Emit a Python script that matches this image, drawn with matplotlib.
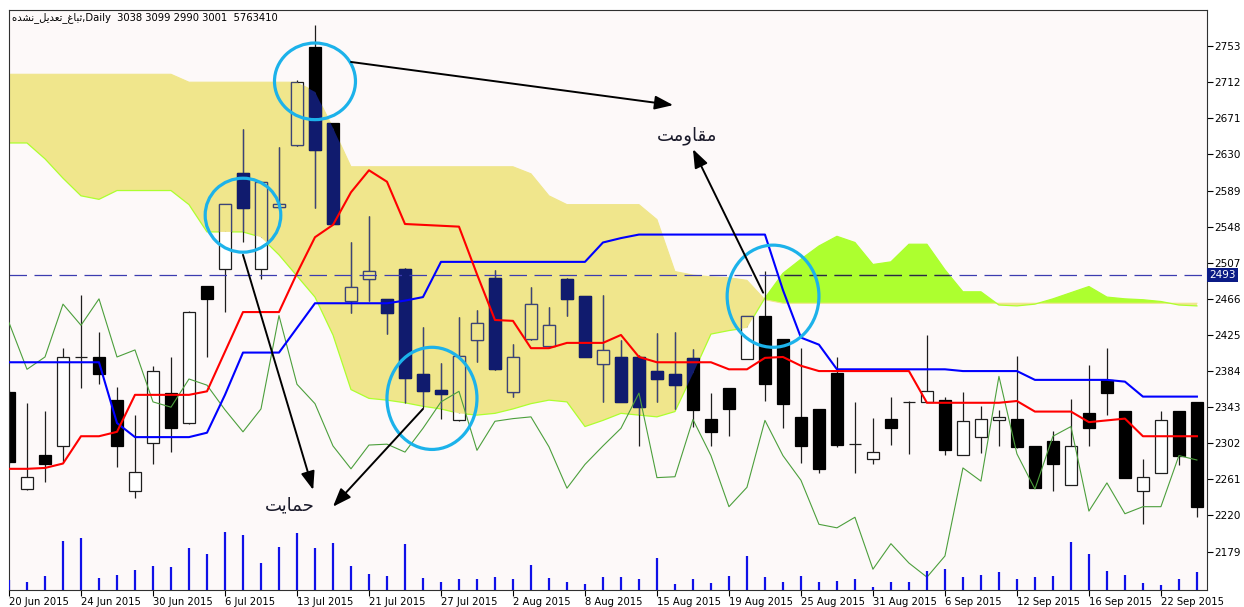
import numpy as np
import matplotlib
matplotlib.use("Agg")
import matplotlib.pyplot as plt
from matplotlib.patches import Ellipse
from matplotlib.path import Path

# ---- values ----
date_labels = ["20 Jun 2015", "24 Jun 2015", "30 Jun 2015", "6 Jul 2015", "13 Jul 2015",
               "21 Jul 2015", "27 Jul 2015", "2 Aug 2015", "8 Aug 2015", "15 Aug 2015",
               "19 Aug 2015", "25 Aug 2015", "31 Aug 2015", "6 Sep 2015", "12 Sep 2015",
               "16 Sep 2015", "22 Sep 2015"]

opens = [2360, 2250, 2289, 2299, 2400, 2400, 2351, 2248, 2302, 2359,
         2325, 2481, 2500, 2609, 2500, 2570, 2641, 2752, 2666, 2463,
         2489, 2466, 2500, 2381, 2363, 2329, 2419, 2490, 2360, 2420,
         2413, 2489, 2469, 2392, 2400, 2400, 2384, 2381, 2399, 2330,
         2365, 2398, 2447, 2420, 2332, 2341, 2382, 2301, 2284, 2330,
         2349, 2349, 2351, 2289, 2309, 2328, 2330, 2299, 2305, 2255,
         2336, 2374, 2339, 2248, 2268, 2339, 2349]
highs = [2363, 2348, 2339, 2410, 2470, 2428, 2366, 2334, 2390, 2400,
         2452, 2481, 2574, 2659, 2599, 2639, 2715, 2777, 2666, 2531,
         2560, 2466, 2501, 2434, 2393, 2445, 2453, 2499, 2415, 2480,
         2457, 2490, 2469, 2470, 2419, 2402, 2427, 2428, 2409, 2359,
         2365, 2447, 2498, 2420, 2410, 2341, 2400, 2349, 2331, 2355,
         2350, 2425, 2355, 2360, 2344, 2340, 2401, 2299, 2316, 2352,
         2391, 2410, 2339, 2284, 2339, 2339, 2349]
lows = [2279, 2249, 2258, 2281, 2365, 2369, 2275, 2240, 2279, 2292,
        2324, 2400, 2451, 2530, 2489, 2569, 2640, 2569, 2551, 2450,
        2464, 2426, 2348, 2342, 2330, 2327, 2394, 2385, 2355, 2419,
        2410, 2447, 2400, 2349, 2349, 2299, 2349, 2341, 2321, 2299,
        2310, 2398, 2350, 2319, 2280, 2268, 2298, 2268, 2279, 2300,
        2290, 2349, 2289, 2289, 2291, 2299, 2297, 2251, 2248, 2255,
        2299, 2334, 2263, 2210, 2268, 2277, 2218]
closes = [2281, 2264, 2278, 2400, 2400, 2381, 2299, 2269, 2384, 2319,
          2451, 2466, 2574, 2569, 2599, 2574, 2712, 2635, 2551, 2480,
          2498, 2450, 2376, 2361, 2358, 2401, 2439, 2386, 2400, 2460,
          2436, 2466, 2400, 2408, 2349, 2343, 2375, 2368, 2340, 2315,
          2341, 2447, 2369, 2347, 2299, 2273, 2300, 2301, 2292, 2319,
          2349, 2361, 2294, 2327, 2330, 2332, 2298, 2251, 2278, 2299,
          2319, 2359, 2263, 2264, 2329, 2288, 2230]
# closes of the bars after the visible window (they feed the lagging span)
later_closes = [2252, 2328, 2288, 2260, 2210, 2206, 2218, 2159, 2188, 2166,
                2150, 2174, 2274, 2259, 2378, 2290, 2250, 2310, 2321, 2225,
                2257, 2222, 2230, 2230, 2288, 2283]
volume = [10, 8, 14, 49, 52, 12, 15, 20, 24, 23,
          42, 36, 58, 55, 27, 43, 57, 42, 47, 24,
          16, 14, 46, 12, 8, 11, 11, 13, 11, 25,
          12, 8, 6, 13, 13, 11, 32, 6, 11, 7,
          14, 34, 13, 8, 14, 8, 9, 11, 3, 8,
          8, 19, 21, 13, 15, 18, 11, 13, 14, 48,
          36, 19, 15, 7, 5, 11, 18]
tenkan = [2273, 2273, 2274, 2279, 2310, 2310, 2315, 2357, 2357, 2357,
          2357, 2361, 2406, 2451, 2451, 2451, 2495, 2536, 2550, 2587,
          2612, 2599, 2551, 2550, 2549, 2548, 2494, 2442, 2441, 2410,
          2410, 2416, 2416, 2416, 2425, 2400, 2394, 2394, 2394, 2394,
          2386, 2386, 2399, 2400, 2390, 2384, 2384, 2384, 2384, 2384,
          2384, 2348, 2348, 2348, 2348, 2348, 2350, 2338, 2338, 2338,
          2326, 2328, 2330, 2310, 2310, 2310, 2310]
kijun = [2394, 2394, 2394, 2394, 2394, 2394, 2325, 2309, 2309, 2309,
         2309, 2314, 2357, 2405, 2405, 2405, 2433, 2461, 2461, 2461,
         2461, 2461, 2464, 2468, 2508, 2508, 2508, 2508, 2508, 2508,
         2508, 2508, 2508, 2530, 2535, 2539, 2539, 2539, 2539, 2539,
         2539, 2539, 2539, 2476, 2422, 2414, 2386, 2386, 2386, 2386,
         2386, 2386, 2386, 2384, 2384, 2384, 2384, 2374, 2374, 2374,
         2374, 2374, 2372, 2355, 2355, 2355, 2355]
span_a = [2643, 2643, 2625, 2603, 2583, 2579, 2589, 2589, 2589, 2589,
          2573, 2542, 2542, 2542, 2536, 2516, 2492, 2468, 2425, 2363,
          2353, 2351, 2348, 2344, 2341, 2336, 2334, 2336, 2341, 2347,
          2351, 2349, 2321, 2328, 2336, 2334, 2332, 2338, 2381, 2426,
          2430, 2433, 2467, 2495, 2511, 2526, 2537, 2530, 2505, 2508,
          2528, 2528, 2499, 2474, 2474, 2459, 2458, 2460, 2466, 2473,
          2480, 2468, 2466, 2465, 2463, 2459, 2458]
span_b = [2721, 2721, 2721, 2721, 2721, 2721, 2721, 2721, 2721, 2721,
          2712, 2712, 2712, 2712, 2712, 2712, 2712, 2701, 2660, 2616,
          2616, 2616, 2616, 2616, 2616, 2616, 2616, 2616, 2616, 2608,
          2583, 2573, 2573, 2573, 2573, 2573, 2556, 2497, 2493, 2491,
          2490, 2487, 2465, 2461, 2461, 2461, 2461, 2461, 2461, 2461,
          2461, 2461, 2461, 2461, 2461, 2461, 2461, 2461, 2461, 2461,
          2461, 2461, 2461, 2461, 2461, 2461, 2461]
last_price = 2493
price_ticks = [2179, 2220, 2261, 2302, 2343, 2384, 2425, 2466, 2507,
               2548, 2589, 2630, 2671, 2712, 2753]
symbol = "ثباغ_تعدیل_نشده"
header_values = "Daily  3038 3099 2990 3001  5763410"
label_resist = "مقاومت"
label_support = "حمایت"

# matplotlib has no Arabic shaping, so map letters to presentation forms
# (isolated, final, initial, medial) and lay them out right to left
FA_FORMS = {
    "ا": ("\uFE8D", "\uFE8E", None, None),
    "ب": ("\uFE8F", "\uFE90", "\uFE91", "\uFE92"),
    "ت": ("\uFE95", "\uFE96", "\uFE97", "\uFE98"),
    "ث": ("\uFE99", "\uFE9A", "\uFE9B", "\uFE9C"),
    "ح": ("\uFEA1", "\uFEA2", "\uFEA3", "\uFEA4"),
    "د": ("\uFEA9", "\uFEAA", None, None),
    "ش": ("\uFEB5", "\uFEB6", "\uFEB7", "\uFEB8"),
    "ع": ("\uFEC9", "\uFECA", "\uFECB", "\uFECC"),
    "غ": ("\uFECD", "\uFECE", "\uFECF", "\uFED0"),
    "ق": ("\uFED5", "\uFED6", "\uFED7", "\uFED8"),
    "ل": ("\uFEDD", "\uFEDE", "\uFEDF", "\uFEE0"),
    "م": ("\uFEE1", "\uFEE2", "\uFEE3", "\uFEE4"),
    "ن": ("\uFEE5", "\uFEE6", "\uFEE7", "\uFEE8"),
    "ه": ("\uFEE9", "\uFEEA", "\uFEEB", "\uFEEC"),
    "و": ("\uFEED", "\uFEEE", None, None),
    "ی": ("\uFEEF", "\uFEF0", "\uFEF3", "\uFEF4"),
}


def shape_fa(text):
    out = []
    for k, ch in enumerate(text):
        if ch not in FA_FORMS:
            out.append(ch)
            continue
        forms = FA_FORMS[ch]
        prev = text[k - 1] if k > 0 else ""
        nxt = text[k + 1] if k + 1 < len(text) else ""
        join_prev = prev in FA_FORMS and FA_FORMS[prev][2] is not None
        join_next = forms[2] is not None and nxt in FA_FORMS
        if join_prev and join_next:
            out.append(forms[3])
        elif join_prev:
            out.append(forms[1])
        elif join_next:
            out.append(forms[2])
        else:
            out.append(forms[0])
    return "".join(reversed(out))


def draw_candles(ax, x, o, h, l, c, up_face, up_edge, down_color, wick, z):
    o, h, l, c = map(np.asarray, (o, h, l, c))
    up = c >= o
    wicks = ax.vlines(x, l, h, color=wick, lw=0.9, zorder=z)
    faces = [up_face if u else down_color for u in up]
    edges = [up_edge if u else down_color for u in up]
    bars = ax.bar(x, np.abs(c - o), width=0.62, bottom=np.minimum(o, c),
                  color=faces, edgecolor=edges, lw=0.9, zorder=z + 0.01)
    return [wicks] + list(bars.patches)


n = len(closes)
xs = np.arange(n)
all_closes = closes + later_closes
chikou = all_closes[26:26 + n]
a = np.array(span_a)
b = np.array(span_b)

fig = plt.figure(figsize=(12.44, 6.07), dpi=100)
fig.patch.set_facecolor("white")
ax = fig.add_axes([9 / 1244, 17 / 607, 1198 / 1244, 580 / 607])
ax.set_facecolor("#fdf9f9")
ax.set_xlim(0, 66.56)
ax.set_ylim(2135.4, 2794)

# cloud
khaki = ax.fill_between(xs, a, b, where=b >= a, interpolate=True,
                        color="#f0e68c", lw=0, zorder=1)
green = ax.fill_between(xs, a, b, where=a >= b, interpolate=True,
                        color="#adff2f", lw=0, zorder=1)
ax.plot(xs, b, color="#f0e68c", lw=0.8, zorder=1.1)
ax.plot(xs, a, color="#adff2f", lw=0.9, zorder=1.2)
khaki_path = Path.make_compound_path(*khaki.get_paths())
green_path = Path.make_compound_path(*green.get_paths())

# candles, and their darker look inside the khaki cloud
draw_candles(ax, xs, opens, highs, lows, closes, "white", "#1e1e1e", "black", "#1e1e1e", 2)
inside = draw_candles(ax, xs, opens, highs, lows, closes, "#f0e68c", "#3b4479",
                      "#101b6e", "#3b4479", 2.2)
for art in inside:
    art.set_clip_path(khaki_path, ax.transData)

# last price line (drawn darker where it crosses the green cloud)
ax.axhline(last_price, color="#3c3cb0", lw=0.9, dashes=(14, 6), zorder=2.5)
dark = ax.axhline(last_price, color="#2a2a40", lw=0.9, dashes=(14, 6), zorder=2.6)
dark.set_clip_path(green_path, ax.transData)

# lines
ax.plot(xs, chikou, color="#4c9f3c", lw=0.8, zorder=3)
ax.plot(xs, kijun, color="#0000ff", lw=1.5, zorder=3.2)
ax.plot(xs, tenkan, color="#ff0000", lw=1.5, zorder=3.3)

# volume along the bottom
vol_scale = 10 * max(volume)
ax.vlines(xs, 0, np.array(volume) / vol_scale, color="#1010e8", lw=1.6,
          transform=ax.get_xaxis_transform(), zorder=3)

# annotations
for (cx, cy, w, hgt) in [(17.0, 2713, 4.5, 87), (13.0, 2561, 4.2, 84),
                         (23.5, 2353, 5.0, 116), (42.45, 2469, 5.1, 116)]:
    ax.add_patch(Ellipse((cx, cy), w, hgt, fill=False, ec="#1cb2ea", lw=2.3, zorder=5))

arrow_kw = dict(arrowstyle="-|>,head_length=0.8,head_width=0.3", color="black",
                lw=1.4, shrinkA=0, shrinkB=0, mutation_scale=14)
for start, end in [((19.0, 2735), (36.9, 2686)), ((41.9, 2473), (38.0, 2636)),
                   ((13.0, 2516), (16.9, 2249)), ((23.0, 2341), (18.0, 2230))]:
    ax.annotate("", xy=end, xytext=start, arrowprops=arrow_kw, zorder=5)

ax.text(37.67, 2651, shape_fa(label_resist), fontsize=13, ha="center", va="center",
        color="#1a1a2a", zorder=6)
ax.text(15.6, 2232, shape_fa(label_support), fontsize=13, ha="center", va="center",
        color="#1a1a2a", zorder=6)

# axes styling
for sp in ax.spines.values():
    sp.set_color("#303030")
    sp.set_linewidth(0.8)
ax.yaxis.tick_right()
ax.set_yticks(price_ticks)
ax.set_yticklabels([str(t) for t in price_ticks])
ax.tick_params(axis="y", direction="out", length=4, width=0.8, pad=1.5,
               labelsize=7.5, colors="black")
ax.set_xticks(np.arange(len(date_labels)) * 4)
ax.set_xticklabels(date_labels, ha="left")
ax.tick_params(axis="x", direction="out", length=4, width=0.8, pad=1,
               labelsize=7.2, colors="black")

ax.text(1.002, last_price, str(last_price), transform=ax.get_yaxis_transform(),
        ha="left", va="center", color="white", fontsize=7.5, clip_on=False, zorder=10,
        bbox=dict(boxstyle="square,pad=0.2", fc="#0b1b86", ec="none"))

fig.text(12 / 1244, 1 - 18 / 607, shape_fa(symbol) + "," + header_values,
         fontsize=7.2, ha="left", va="center", color="black")

fig.savefig("out.png", dpi=100)
